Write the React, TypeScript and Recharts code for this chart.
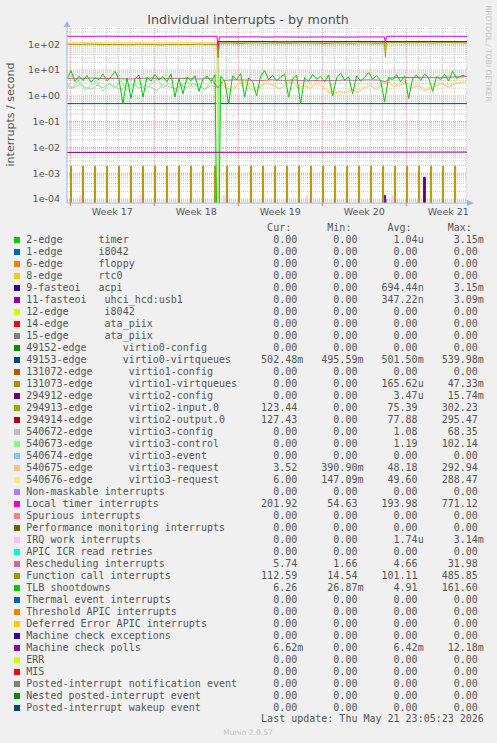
import React from "react";
import { LineChart, Line, XAxis, YAxis, CartesianGrid, ReferenceLine } from "recharts";

type Pair = [number, number];

// x axis runs in days from the left edge of the graph
const spanDays = 33.33;
const weekStarts = [0.275, 7.275, 14.275, 21.275, 28.275];
const weekLabels = ["Week 17", "Week 18", "Week 19", "Week 20", "Week 21"];
const restartDay = 12.58;
const rrdStep = 1 / 12; // one 2h bucket

const yTicks = [1e-4, 1e-3, 1e-2, 1e-1, 1, 10, 100];
const yTickLabels = ["1e-04", "1e-03", "1e-02", "1e-01", "1e+00", "1e+01", "1e+02"];
const yDomain: [number, number] = [7.06e-5, 468];

// smooth series as [day, value]
const localTimer: Pair[] = [
  [0, 205], [1.5, 203], [3, 206], [4.5, 204], [6, 205], [7.5, 202], [9, 206], [10.5, 204],
  [12, 205], [12.5, 203], [12.58, 60], [12.7, 193], [14, 192], [15.5, 194], [17, 189],
  [17.4, 194], [18.5, 191], [20, 190], [21.5, 193], [23, 189], [24.5, 192], [26, 193],
  [26.45, 192], [26.53, 110], [26.62, 204], [28, 205], [29.5, 204], [31, 205], [32.5, 204],
  [33.33, 202],
];
const functionCall: Pair[] = [
  [0, 101], [1, 99], [2, 102], [3, 97], [4, 100], [5, 96], [6, 101], [7, 99], [8, 95],
  [9, 100], [10, 98], [11, 101], [12, 99], [12.5, 98], [12.58, 30], [12.7, 110], [13.5, 112],
  [14.5, 108], [15.5, 113], [16.5, 110], [17.5, 112], [18.5, 109], [19.5, 113], [20.5, 111],
  [21.5, 108], [22.5, 112], [23.5, 110], [24.5, 113], [25.5, 111], [26.45, 110], [26.53, 33],
  [26.62, 114], [27.5, 116], [28.5, 113], [29.5, 115], [30.5, 112], [31.5, 116], [32.5, 114],
  [33.33, 112.6],
];
const virtio2Input: Pair[] = [
  [0, 0], [12.52, 0], [12.56, 123], [14, 122], [16, 124], [18, 121], [20, 123], [22, 122],
  [24, 124], [26, 122], [28, 123], [30, 124], [32, 122], [33.33, 123.4],
];
const virtio2Output: Pair[] = [
  [0, 0], [12.52, 0], [12.56, 128], [14, 127], [16, 129], [18, 126], [20, 128], [22, 127],
  [24, 129], [26, 127], [28, 128], [30, 129], [32, 127], [33.33, 127.4],
];
const rescheduling: Pair[] = [
  [0, 4.8], [1, 4.6], [2, 4.9], [3, 4.7], [4, 4.8], [5, 4.5], [6, 4.7], [7, 4.9], [8, 4.6],
  [9, 4.8], [10, 4.7], [11, 4.5], [12, 4.8], [12.58, 2.0], [13, 4.0], [14, 4.2], [15, 4.1],
  [16, 3.9], [17, 4.2], [18, 4.0], [19, 4.1], [20, 3.8], [21, 4.0], [22, 3.9], [23, 4.1],
  [24, 4.0], [25, 4.2], [26, 4.1], [26.5, 3.5], [27, 5.0], [28, 5.2], [29, 5.1], [30, 5.3],
  [31, 5.0], [32, 5.4], [33, 5.5], [33.33, 5.74],
];
const virtio0Queues: Pair[] = [[0, 0.501], [33.33, 0.502]];
const mcePolls: Pair[] = [[0, 6.42e-3], [33.33, 6.62e-3]];

// noisy series on a regular grid (8h for TLB, 12h for virtio3)
const tlbBefore = [
  4.5, 9.4, 3.6, 5.8, 4.0, 6.2, 3.4, 5.1, 4.3, 7.0, 3.8, 5.5, 9.0, 4.2, 0.5, 5.0, 0.8, 4.6, 6.4,
  0.9, 5.3, 3.7, 6.8, 4.1, 5.6, 3.5, 7.2, 0.9, 4.8, 1.2, 5.4, 3.9, 6.1, 1.5, 4.4, 5.9, 3.6, 6.6,
];
const tlbAfter = [
  5.5, 3.8, 0.5, 6.0, 4.2, 7.4, 0.9, 5.0, 3.6, 1.0, 5.8, 9.5, 4.3, 6.2, 3.9, 5.4, 7.0, 0.9, 4.6,
  6.3, 0.5, 5.1, 3.7, 6.8, 4.4, 5.7, 3.5, 6.5, 1.0, 4.9, 7.6, 4.0, 5.5, 1.2, 6.0, 3.8, 5.2, 8.0,
  4.5, 6.1, 3.9, 0.6, 5.3, 4.1, 6.7, 3.6, 5.8, 0.8, 4.7, 6.4, 4.0, 7.1, 5.0, 1.5, 5.6, 4.2, 6.9,
  3.8, 9.0, 4.8, 5.9, 6.3,
];
const v3CtlBefore = [
  3.0, 2.1, 4.2, 1.7, 2.6, 3.6, 1.5, 2.9, 2.0, 3.9, 1.6, 2.4, 3.3, 1.8, 2.7, 4.4, 2.0, 3.1, 1.6,
  2.5, 3.7, 2.2, 2.9, 1.8, 3.4, 2.5,
];
const v3CfgBefore = [
  2.4, 2.0, 2.7, 2.2, 1.8, 2.6, 2.1, 2.9, 2.3, 1.7, 2.4, 2.8, 2.0, 2.5, 2.2, 1.6, 2.7, 2.3, 1.9,
  2.6, 2.1, 3.0, 2.4, 1.8, 2.5, 2.2,
];
const v3ReqABefore = [
  118, 117, 119, 116, 118, 117, 115, 118, 119, 117, 116, 118, 117, 119, 118, 116, 117, 118, 117,
  119, 116, 118, 117, 118, 116, 117,
];
const v3ReqAAfter = [
  3.0, 2.2, 1.6, 2.8, 3.5, 2.0, 1.5, 2.6, 3.2, 2.4, 1.8, 2.9, 3.6, 2.1, 2.5, 1.9, 3.0, 2.3, 1.4,
  1.2, 1.5, 1.3, 1.8, 1.4, 2.0, 2.6, 1.7, 2.9, 3.4, 2.2, 2.7, 3.1, 2.0, 2.5, 1.6, 1.9, 2.4, 3.0,
  2.2, 2.8, 3.3, 3.5,
];
const v3ReqBBefore = [
  114, 113, 115, 112, 114, 113, 111, 114, 115, 113, 112, 114, 113, 115, 114, 112, 113, 114, 113,
  115, 112, 114, 113, 114, 112, 113,
];
const v3ReqBAfter = [
  3.8, 2.6, 2.0, 3.3, 4.2, 2.4, 1.8, 3.0, 3.9, 2.7, 2.1, 3.5, 4.4, 2.5, 3.0, 2.2, 3.7, 2.8, 1.7,
  1.4, 1.1, 1.6, 2.2, 1.7, 2.4, 3.1, 2.0, 3.6, 4.0, 2.6, 3.2, 3.8, 2.3, 3.0, 1.9, 2.2, 2.9, 3.6,
  2.6, 3.4, 4.5, 6.0,
];

// short bursts (one rrd bucket each)
const vq1SpikeDays = [
  0.3, 1.3, 2.3, 3.3, 4.3, 5.3, 6.3, 7.3, 8.3, 9.3, 10.3, 11.3, 12.3, 13.3, 14.3, 15.3, 16.3,
  17.3, 18.3, 19.3, 20.3, 21.3, 22.3, 23.3, 24.3, 25.3, 26.3, 27.3, 28.3, 29.3, 30.3, 31.3, 32.3,
];
const vq1SpikeVals = [
  1.9e-3, 1.9e-3, 1.9e-3, 1.9e-3, 1.9e-3, 1.9e-3, 1.9e-3, 1.9e-3, 1.9e-3, 1.9e-3, 1.9e-3,
  1.9e-3, 1.9e-3, 1.9e-3, 1.9e-3, 1.9e-3, 1.9e-3, 1.9e-3, 1.9e-3, 1.9e-3, 1.9e-3, 1.9e-3,
  1.9e-3, 1.9e-3, 1.9e-3, 1.9e-3, 1.9e-3, 1.9e-3, 1.9e-3, 1.9e-3, 1.9e-3, 1.9e-3, 1.9e-3,
];
const irqWorkDays = [1.08, 6.08, 13.03, 19.97, 27.06];
const irqWorkVals = [1.4e-4, 1.4e-4, 1.4e-4, 1.4e-4, 1.4e-4];
const acpiDays = [26.45];
const acpiVals = [1.4e-4];
const uhciDays = [26.5];
const uhciVals = [1.0e-4];
const v2CfgDays = [29.7, 29.78];
const v2CfgVals = [7e-4, 7e-4];

// legend
const legendNames = [
  "2-edge      timer", "1-edge      i8042", "6-edge      floppy", "8-edge      rtc0",
  "9-fasteoi   acpi", "11-fasteoi   uhci_hcd:usb1", "12-edge      i8042",
  "14-edge      ata_piix", "15-edge      ata_piix", "49152-edge      virtio0-config",
  "49153-edge      virtio0-virtqueues", "131072-edge      virtio1-config",
  "131073-edge      virtio1-virtqueues", "294912-edge      virtio2-config",
  "294913-edge      virtio2-input.0", "294914-edge      virtio2-output.0",
  "540672-edge      virtio3-config", "540673-edge      virtio3-control",
  "540674-edge      virtio3-event", "540675-edge      virtio3-request",
  "540676-edge      virtio3-request", "Non-maskable interrupts", "Local timer interrupts",
  "Spurious interrupts", "Performance monitoring interrupts", "IRQ work interrupts",
  "APIC ICR read retries", "Rescheduling interrupts", "Function call interrupts",
  "TLB shootdowns", "Thermal event interrupts", "Threshold APIC interrupts",
  "Deferred Error APIC interrupts", "Machine check exceptions", "Machine check polls", "ERR",
  "MIS", "Posted-interrupt notification event", "Nested posted-interrupt event",
  "Posted-interrupt wakeup event",
];
const legendColors = [
  "#00CC00", "#0066B3", "#FF8000", "#FFCC00", "#330099", "#990099", "#CCFF00", "#FF0000",
  "#808080", "#008F00", "#00487D", "#B35A00", "#B38F00", "#6B006B", "#8FB300", "#B30000",
  "#BEBEBE", "#80FF80", "#80C9FF", "#FFC080", "#FFE680", "#AA80FF", "#EE00CC", "#FF8080",
  "#666600", "#FFBFFF", "#00FFCC", "#CC6699", "#999900", "#00CC00", "#0066B3", "#FF8000",
  "#FFCC00", "#330099", "#990099", "#CCFF00", "#FF0000", "#808080", "#008F00", "#00487D",
];
const legendCur = [
  "0.00", "0.00", "0.00", "0.00", "0.00", "0.00", "0.00", "0.00", "0.00", "0.00", "502.48m",
  "0.00", "0.00", "0.00", "123.44", "127.43", "0.00", "0.00", "0.00", "3.52", "6.00", "0.00",
  "201.92", "0.00", "0.00", "0.00", "0.00", "5.74", "112.59", "6.26", "0.00", "0.00", "0.00",
  "0.00", "6.62m", "0.00", "0.00", "0.00", "0.00", "0.00",
];
const legendMin = [
  "0.00", "0.00", "0.00", "0.00", "0.00", "0.00", "0.00", "0.00", "0.00", "0.00", "495.59m",
  "0.00", "0.00", "0.00", "0.00", "0.00", "0.00", "0.00", "0.00", "390.90m", "147.09m", "0.00",
  "54.63", "0.00", "0.00", "0.00", "0.00", "1.66", "14.54", "26.87m", "0.00", "0.00", "0.00",
  "0.00", "0.00", "0.00", "0.00", "0.00", "0.00", "0.00",
];
const legendAvg = [
  "1.04u", "0.00", "0.00", "0.00", "694.44n", "347.22n", "0.00", "0.00", "0.00", "0.00",
  "501.50m", "0.00", "165.62u", "3.47u", "75.39", "77.88", "1.08", "1.19", "0.00", "48.18",
  "49.60", "0.00", "193.98", "0.00", "0.00", "1.74u", "0.00", "4.66", "101.11", "4.91", "0.00",
  "0.00", "0.00", "0.00", "6.42m", "0.00", "0.00", "0.00", "0.00", "0.00",
];
const legendMax = [
  "3.15m", "0.00", "0.00", "0.00", "3.15m", "3.09m", "0.00", "0.00", "0.00", "0.00", "539.98m",
  "0.00", "47.33m", "15.74m", "302.23", "295.47", "68.35", "102.14", "0.00", "292.94", "288.47",
  "0.00", "771.12", "0.00", "0.00", "3.14m", "0.00", "31.98", "485.85", "161.60", "0.00",
  "0.00", "0.00", "0.00", "12.18m", "0.00", "0.00", "0.00", "0.00", "0.00",
];
const lastUpdate = "Last update: Thu May 21 23:05:23 2026";

// ---- building helpers
const FLOOR = 1e-9; // zero can't go on a log axis; sits far below the plot and gets clipped
type Pt = { d: number; v: number };
const pt = (d: number, v: number): Pt => ({ d, v: v > 0 ? v : FLOOR });
const fromPairs = (p: Pair[]) => p.map(([d, v]) => pt(d, v));
const fromGrid = (vals: number[], start: number, step: number) =>
  vals.map((v, i) => pt(start + i * step, v));
const fromBursts = (days: number[], vals: number[]) => {
  const out: Pt[] = [pt(0, 0)];
  days.forEach((d, i) => {
    out.push(pt(d, 0), pt(d, vals[i]), pt(d + rrdStep, vals[i]), pt(d + rrdStep, 0));
  });
  out.push(pt(spanDays, 0));
  return out;
};

const series: { name: string; color: string; data: Pt[] }[] = [
  { name: "acpi", color: "#330099", data: fromBursts(acpiDays, acpiVals) },
  { name: "uhci", color: "#990099", data: fromBursts(uhciDays, uhciVals) },
  { name: "virtio0-virtqueues", color: "#00487D", data: fromPairs(virtio0Queues) },
  { name: "virtio1-virtqueues", color: "#B38F00", data: fromBursts(vq1SpikeDays, vq1SpikeVals) },
  { name: "virtio2-config", color: "#6B006B", data: fromBursts(v2CfgDays, v2CfgVals) },
  { name: "virtio2-input", color: "#8FB300", data: fromPairs(virtio2Input) },
  { name: "virtio2-output", color: "#B30000", data: fromPairs(virtio2Output) },
  {
    name: "virtio3-config", color: "#BEBEBE",
    data: [...fromGrid(v3CfgBefore, 0, 0.5), pt(restartDay, 68), pt(restartDay + 0.1, 0), pt(spanDays, 0)],
  },
  {
    name: "virtio3-control", color: "#80FF80",
    data: [...fromGrid(v3CtlBefore, 0, 0.5), pt(restartDay, 102), pt(restartDay + 0.1, 0), pt(spanDays, 0)],
  },
  {
    name: "virtio3-request-a", color: "#FFC080",
    data: [...fromGrid(v3ReqABefore, 0, 0.5), pt(restartDay, 0), ...fromGrid(v3ReqAAfter, 12.75, 0.5)],
  },
  {
    name: "virtio3-request-b", color: "#FFE680",
    data: [...fromGrid(v3ReqBBefore, 0, 0.5), pt(restartDay, 0), ...fromGrid(v3ReqBAfter, 12.75, 0.5)],
  },
  { name: "local-timer", color: "#EE00CC", data: fromPairs(localTimer) },
  { name: "irq-work", color: "#FFBFFF", data: fromBursts(irqWorkDays, irqWorkVals) },
  { name: "rescheduling", color: "#CC6699", data: fromPairs(rescheduling) },
  { name: "function-call", color: "#999900", data: fromPairs(functionCall) },
  {
    name: "tlb", color: "#00CC00",
    data: [...fromGrid(tlbBefore, 0, 1 / 3), pt(restartDay, 0), ...fromGrid(tlbAfter, 12.8, 1 / 3)],
  },
  { name: "mce-polls", color: "#990099", data: fromPairs(mcePolls) },
];

// grid positions
const weekMids = weekStarts.map((w) => w + 3.5);
const dayLines: number[] = [];
for (let d = weekStarts[0]; d < spanDays; d += 1) {
  if (!weekStarts.some((w) => Math.abs(w - d) < 0.01)) dayLines.push(d);
}
const minorY: number[] = [];
for (let e = -5; e <= 2; e++) {
  for (let k = 2; k <= 9; k++) {
    const v = k * Math.pow(10, e);
    if (v > yDomain[0] && v < yDomain[1]) minorY.push(v);
  }
}

const AXIS = "#a7b3e2";
const TEXT = "#555";
const MINOR = "#cdcdcd";
const MAJOR = "#eba0a0";
const MONO = "'DejaVu Sans Mono', monospace";
const SANS = "'DejaVu Sans', sans-serif";

const fmt = (s: string) => {
  const unit = /[a-z]$/.test(s) ? s.slice(-1) : " ";
  const num = unit === " " ? s : s.slice(0, -1);
  return num.padStart(6) + unit;
};

const WeekTick = (props: any) => {
  const { x, y, payload } = props;
  if (weekStarts.indexOf(payload.value) >= 0) {
    return <line x1={x} x2={x} y1={y} y2={y + 3} stroke="#e07070" />;
  }
  const j = weekMids.indexOf(payload.value);
  return (
    <text x={x} y={y + 12} textAnchor="middle" fontSize={9.5} fill={TEXT} fontFamily={SANS}>
      {weekLabels[j]}
    </text>
  );
};

export default function App() {
  return (
    <div
      style={{
        position: "absolute", left: 0, top: 0, width: 497, height: 743,
        background: "#F0F0F0", overflow: "hidden",
      }}
    >
      <div style={{ position: "absolute", left: 0, top: 0 }}>
        <LineChart width={497} height={230} margin={{ top: 27, right: 30, bottom: 7, left: 0 }}>
          <CartesianGrid horizontal={false} vertical={false} fill="#FFFFFF" />
          {minorY.map((v) => (
            <ReferenceLine key={"my" + v} y={v} stroke={MINOR} strokeDasharray="1 1" />
          ))}
          {dayLines.map((d) => (
            <ReferenceLine key={"dx" + d} x={d} stroke={MINOR} strokeDasharray="1 1" />
          ))}
          {yTicks.map((v) => (
            <ReferenceLine key={"My" + v} y={v} stroke={MAJOR} strokeDasharray="1 1" />
          ))}
          {weekStarts.map((d) => (
            <ReferenceLine key={"wx" + d} x={d} stroke={MAJOR} strokeDasharray="1 1" />
          ))}
          <XAxis
            type="number"
            dataKey="d"
            domain={[0, spanDays]}
            allowDataOverflow
            ticks={[...weekStarts, ...weekMids]}
            interval={0}
            tickLine={false}
            tickSize={0}
            tickMargin={0}
            height={20}
            axisLine={{ stroke: AXIS }}
            tick={WeekTick}
          />
          <YAxis
            type="number"
            scale="log"
            domain={yDomain}
            allowDataOverflow
            ticks={yTicks}
            interval={0}
            width={67}
            tickLine={false}
            tickSize={0}
            tickMargin={7}
            axisLine={{ stroke: AXIS }}
            tickFormatter={(v: number) => yTickLabels[yTicks.indexOf(v)]}
            tick={{ fontSize: 9.5, fill: TEXT, fontFamily: SANS }}
          />
          {series.map((s) => (
            <Line
              key={s.name}
              data={s.data}
              dataKey="v"
              type="linear"
              stroke={s.color}
              strokeWidth={1}
              dot={false}
              activeDot={false}
              isAnimationActive={false}
            />
          ))}
        </LineChart>
      </div>

      <svg
        width={497}
        height={743}
        style={{ position: "absolute", left: 0, top: 0, pointerEvents: "none" }}
      >
        <text x={248} y={23.5} textAnchor="middle" fontSize={12.7} fill="#505050" fontFamily={SANS}>
          Individual interrupts - by month
        </text>
        <text
          transform="translate(10,114.5) rotate(-90)"
          textAnchor="middle"
          dominantBaseline="central"
          fontSize={11}
          fill={TEXT}
          fontFamily={SANS}
        >
          interrupts / second
        </text>
        <text
          transform="translate(488,53.5) rotate(90)"
          textAnchor="middle"
          dominantBaseline="central"
          fontSize={7.5}
          fill="#c4c4c4"
          fontFamily={SANS}
        >
          RRDTOOL / TOBI OETIKER
        </text>
        <polygon points="63.5,27 70.5,27 67,21" fill={AXIS} />
        <line x1={467} x2={470} y1={203} y2={203} stroke={AXIS} />
        <polygon points="467,199.7 467,206.3 474,203" fill={AXIS} />
        <text x={248} y={734.5} textAnchor="middle" fontSize={7.6} fill="#c4c4c4" fontFamily={SANS}>
          Munin 2.0.57
        </text>
      </svg>

      <div
        style={{
          position: "absolute", left: 26.3, top: 221.5, fontFamily: MONO, fontSize: 10,
          lineHeight: "12px", whiteSpace: "pre", color: TEXT,
        }}
      >
        {" ".repeat(40) + "Cur:      Min:      Avg:      Max:"}
      </div>
      {legendNames.map((name, i) => (
        <React.Fragment key={name + i}>
          <div
            style={{
              position: "absolute", left: 14, top: 237 + 12 * i, width: 6, height: 6,
              background: legendColors[i],
            }}
          />
          <div
            style={{
              position: "absolute", left: 26.3, top: 234 + 12 * i, fontFamily: MONO,
              fontSize: 10, lineHeight: "12px", whiteSpace: "pre", color: TEXT,
            }}
          >
            {name.padEnd(39) +
              fmt(legendCur[i]) + "   " + fmt(legendMin[i]) + "   " +
              fmt(legendAvg[i]) + "   " + fmt(legendMax[i])}
          </div>
        </React.Fragment>
      ))}
      <div
        style={{
          position: "absolute", left: 26.3, top: 713, fontFamily: MONO, fontSize: 10,
          lineHeight: "12px", whiteSpace: "pre", color: TEXT,
        }}
      >
        {" ".repeat(39) + lastUpdate}
      </div>
    </div>
  );
}
